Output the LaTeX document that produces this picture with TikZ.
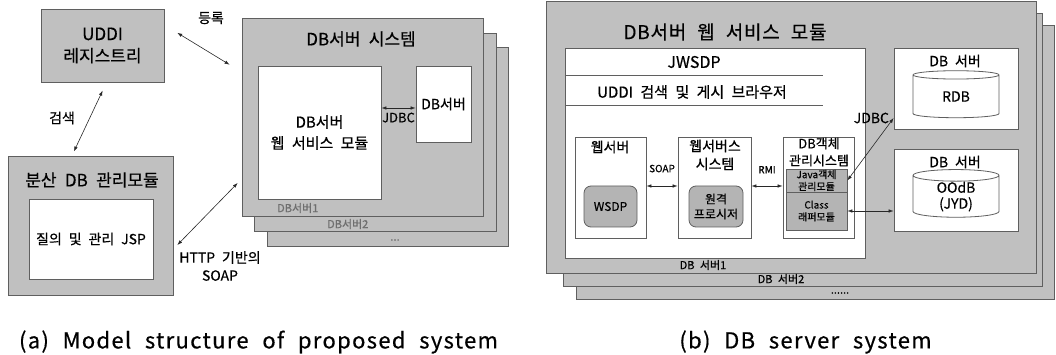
\documentclass[tikz,border=0pt]{standalone}
\usepackage{fontspec}
\setmainfont{Noto Sans CJK KR}[WordSpace=2.2, FakeBold=0.5]
\usetikzlibrary{
    shapes.geometric,
    arrows.meta,
    positioning,
    calc
}
\definecolor{boxgray}{RGB}{192,192,192}
\definecolor{modgray}{RGB}{180,180,180}
\definecolor{edgegray}{RGB}{95,95,95}
\definecolor{labelgray}{RGB}{110,110,110}
\definecolor{arrowgray}{RGB}{40,40,40}
\newcommand{\fsz}[2]{\fontsize{#1}{#2}\selectfont}
\tikzset{
    % Boxes
    graybox/.style={
        rectangle,
        draw=edgegray,
        line width=0.9pt,
        fill=boxgray,
        inner sep=0pt
    },
    whitebox/.style={
        rectangle,
        draw=edgegray,
        line width=0.8pt,
        fill=white,
        inner sep=0pt,
        align=center
    },
    roundbox/.style={
        rectangle,
        rounded corners=7pt,
        draw=edgegray,
        line width=0.8pt,
        fill=modgray,
        inner sep=0pt,
        align=center,
        font=\fsz{12}{15}
    },
    modbox/.style={
        rectangle,
        draw=edgegray,
        line width=0.7pt,
        fill=modgray,
        inner sep=0pt,
        align=center,
        font=\fsz{10}{12}
    },
    % Databases
    dbcyl/.style={
        cylinder,
        shape border rotate=90,
        aspect=0.3,
        draw=edgegray,
        line width=0.8pt,
        fill=white,
        minimum width=86,
        minimum height=47,
        inner sep=0pt,
        align=center,
        font=\fsz{14}{16}
    },
    % Arrows
    biarrow/.style={
        {Latex[length=5pt,width=3.5pt]}-{Latex[length=5pt,width=3.5pt]},
        line width=0.6pt,
        draw=arrowgray
    },
    % Labels
    layerlabel/.style={
        font=\fsz{11}{13},
        text=labelgray,
        inner sep=0pt
    },
    caption/.style={
        font=\fsz{22}{24}\addfontfeature{LetterSpace=6}
    },
    sepline/.style={
        draw=edgegray,
        line width=0.7pt
    }
}

\begin{document}
\begin{tikzpicture}[x=1pt, y=-1pt]

    \useasboundingbox (0,0) rectangle (1056,355);

    % ---------------- (a) ----------------
    % UDDI registry
    \node[graybox, minimum width=123, minimum height=73, align=center, font=\fsz{17}{22}] (uddi) at (102.5,45.5) {UDDI\\레지스트리};

    % Distributed DB manager
    \node[graybox, minimum width=165, minimum height=139] (dbm) at (90.5,225.5) {};
    \node[font=\fsz{17}{20}] (dbmtitle) at (92,180) {분산 DB 관리모듈};
    \node[whitebox, minimum width=124, minimum height=80, font=\fsz{14}{17}] (jsp) at (91,239) {질의 및 관리 JSP};

    % DB server system (stacked)
    \node[graybox, minimum width=241, minimum height=199] (syslayC) at (387.5,146.5) {};
    \node[graybox, minimum width=242, minimum height=198] (syslayB) at (375,132) {};
    \node[graybox, minimum width=241, minimum height=198] (sys) at (362.5,117) {};
    \node[font=\fsz{17}{20}] (systitle) at (361,39) {DB서버 시스템};
    \node[whitebox, minimum width=123, minimum height=133, font=\fsz{15}{21}] (wsm) at (319.5,132.5) {DB서버\\웹 서비스 모듈};
    \node[whitebox, minimum width=55, minimum height=76, font=\fsz{14}{17}] (dbsv) at (443.5,104) {DB서버};
    \draw[biarrow] ([yshift=24.5]wsm.east) -- node[below=1pt, font=\fsz{13}{15}] (jdbcL) {JDBC} ([yshift=-4]dbsv.west);

    \node[layerlabel, anchor=west] (sysone) at (277,208) {DB서버1};
    \node[layerlabel, anchor=west] (systwo) at (327,224) {DB서버2};
    \node[layerlabel] (sysmore) at (395,240) {...};

    % Connections
    \draw[biarrow, shorten <=15pt, shorten >=14pt] ([yshift=20.5]uddi.east) -- ([yshift=45]sys.west);
    \node[font=\fsz{14}{16}] (reglabel) at (211,18) {등록};
    \draw[biarrow, shorten <=9pt, shorten >=4.5pt] ([xshift=4]uddi.south) -- ([xshift=-18.5]dbm.north);
    \node[font=\fsz{14}{16}] (searchlabel) at (62,118) {검색};
    \draw[biarrow, shorten <=5.5pt, shorten >=5.5pt] ([yshift=-23.5]dbm.east) -- ([yshift=-62]sys.west);
    \node[font=\fsz{14}{18}, align=center] (httplabel) at (220,266) {HTTP 기반의\\SOAP};

    % ---------------- (b) ----------------
    % Stacked server layers
    \node[graybox, minimum width=478, minimum height=274] (srvlayC) at (815,162) {};
    \node[graybox, minimum width=479, minimum height=273] (srvlayB) at (802.5,149.5) {};
    \node[graybox, minimum width=490, minimum height=272] (srv) at (791,137) {};
    \node[font=\fsz{19}{21}\addfontfeature{LetterSpace=4}] (srvtitle) at (725,32) {DB서버 웹 서비스 모듈};

    % JWSDP panel
    \node[whitebox, minimum width=300, minimum height=210] (panel) at (715,153) {};
    \node[font=\fsz{16}{18}] (jwsdp) at (694,62) {JWSDP};
    \draw[sepline] ($(panel.north west)+(0,28)$) -- ++(258,0);
    \node[font=\fsz{15}{18}] (browser) at (692,92) {UDDI 검색 및 게시 브라우저};
    \draw[sepline] ($(panel.north west)+(0,58)$) -- ++(258,0);

    % Web server
    \node[whitebox, minimum width=71, minimum height=101] (web) at (610.5,187.5) {};
    \node[font=\fsz{14}{16}] (webtitle) at (610,147) {웹서버};
    \node[roundbox, minimum width=53, minimum height=41] (wsdp) at (610.5,206.5) {WSDP};

    % Web service system
    \node[whitebox, minimum width=73, minimum height=101] (wss) at (714.5,187.5) {};
    \node[font=\fsz{14}{18}, align=center] (wsstitle) at (715,155) {웹서버스\\시스템};
    \node[roundbox, minimum width=54, minimum height=41, font=\fsz{12}{15}] (rpc) at (716,206.5) {원격\\프로시저};

    % DB object manager
    \node[whitebox, minimum width=71, minimum height=101] (obj) at (818.5,187.5) {};
    \node[font=\fsz{13}{17}, align=center] (objtitle) at (819,152) {DB객체\\관리시스템};
    \node[modbox, minimum width=61, minimum height=23] (jmod) at (816.5,180.5) {Java객체\\관리모듈};
    \node[modbox, minimum width=61, minimum height=38] (cmod) at (816.5,211) {Class\\래퍼모듈};

    \draw[biarrow] ([yshift=1.5]web.east) -- node[above=10pt, font=\fsz{10}{12}] (soaplabel) {SOAP} ([yshift=1.5]wss.west);
    \draw[biarrow] ([yshift=1.5]wss.east) -- node[above=9pt, font=\fsz{10}{12}] (rmilabel) {RMI} ([yshift=1.5]obj.west);

    % DB servers
    \node[whitebox, minimum width=124, minimum height=81] (dbone) at (956,88.5) {};
    \node[font=\fsz{14}{16}] (dbonetitle) at (955,61) {DB 서버};
    \node[dbcyl] (rdb) at (956,96.5) {RDB};
    \node[whitebox, minimum width=124, minimum height=82] (dbtwo) at (956,190) {};
    \node[font=\fsz{14}{16}] (dbtwotitle) at (955,162) {DB 서버};
    \node[dbcyl] (oodb) at (956,196.5) {OOdB\\(JYD)};

    \draw[biarrow] (jmod.east) -- node[pos=1, left=1pt, font=\fsz{14}{16}] (jdbcR) {JDBC} ([yshift=-29.5]dbone.west);
    \draw[biarrow] (cmod.east) -- ([yshift=-21]dbtwo.west);

    \node[font=\fsz{11}{13}, inner sep=0pt] (srvone) at (703,265) {DB 서버1};
    \node[font=\fsz{11}{13}, inner sep=0pt] (srvtwo) at (781,279) {DB 서버2};
    \node[font=\fsz{11}{13}, inner sep=0pt] (srvmore) at (840,293) {......};

    % Captions
    \node[caption] (capa) at (258.5,342) {(a) Model structure of proposed system};
    \node[caption] (capb) at (805.5,342) {(b) DB server system};

\end{tikzpicture}
\end{document}
